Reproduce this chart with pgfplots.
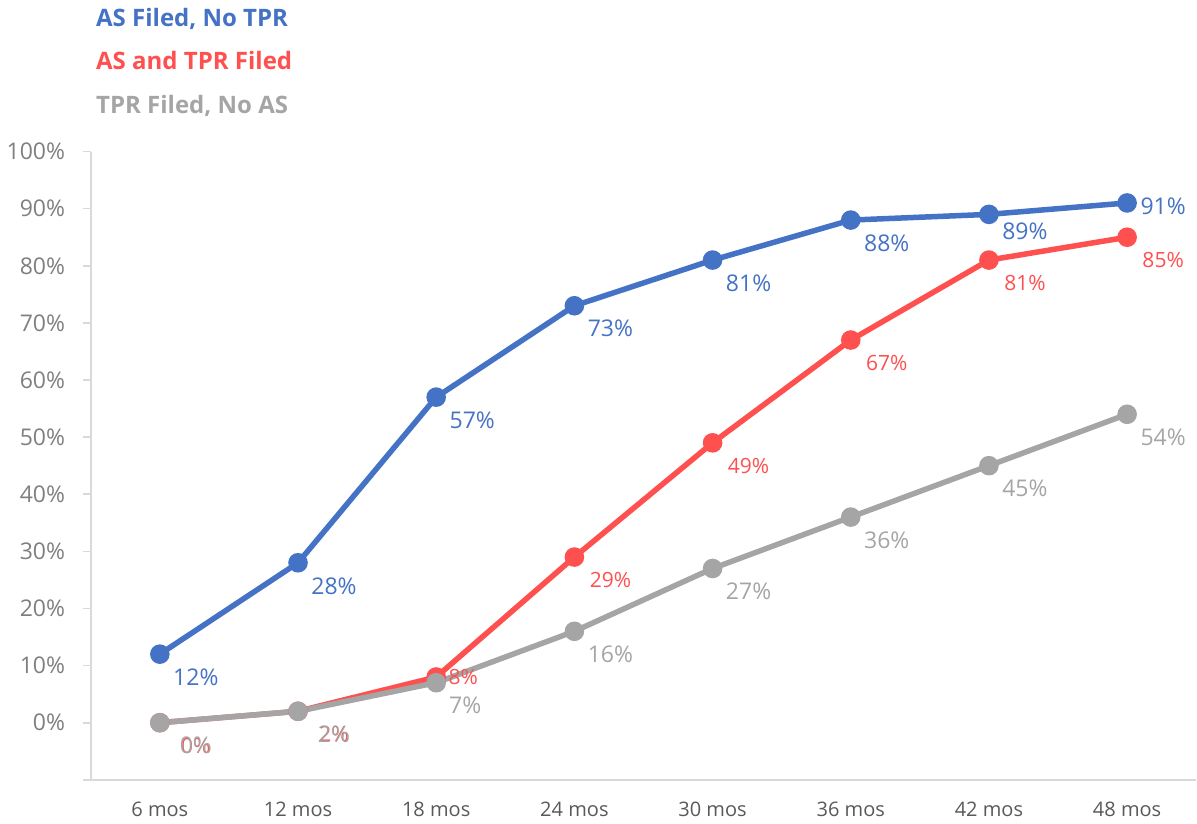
\documentclass[border=0pt]{standalone}
\usepackage{pgfplots}
\pgfplotsset{compat=1.18}
\usepackage{fontspec}
\setmainfont{Open Sans}
\definecolor{asblue}{HTML}{4472C4}
\definecolor{bothred}{HTML}{FF5050}
\definecolor{tprgray}{HTML}{A5A5A5}
\definecolor{axisgray}{HTML}{D9D9D9}
\definecolor{ylabgray}{HTML}{7F7F7F}
\definecolor{xlabgray}{HTML}{595959}

\begin{document}
\begin{tikzpicture}
\begin{axis}[
  scale only axis,
  width=552.5pt, height=314pt,
  xmin=-0.5, xmax=7.5,
  ymin=-10, ymax=100,
  axis lines*=left,
  axis line style={axisgray, line width=0.8pt},
  xtick={0,...,7},
  xticklabels={6 mos,12 mos,18 mos,24 mos,30 mos,36 mos,42 mos,48 mos},
  x tick label style={font=\fontsize{10}{12}\selectfont, text=xlabgray, yshift=-3.6pt},
  major x tick style={draw=none},
  ytick={-10,0,10,20,30,40,50,60,70,80,90,100},
  yticklabels={,0\%,10\%,20\%,30\%,40\%,50\%,60\%,70\%,80\%,90\%,100\%},
  y tick label style={font=\fontsize{11.5}{13}\selectfont, text=ylabgray, xshift=-5.3pt},
  /pgf/number format/assume math mode=true,
  tick align=outside,
  major tick length=4pt,
  major y tick style={axisgray, line width=0.8pt},
  every axis plot/.append style={line width=2.75pt, mark=*, mark size=3.5pt},
  point meta=y,
  nodes near coords={\pgfmathprintnumber{\pgfplotspointmeta}\%},
  every node near coord/.append style={anchor=center, xshift=18pt, yshift=-11.5pt,
    font=\fontsize{11.5}{13}\selectfont},
  legend cell align=left,
  legend image code/.code={},
  legend style={draw=none, fill=none, at={(0,1.042)}, anchor=south west, xshift=-2.5pt,
    font=\bfseries\fontsize{12}{14}\selectfont, row sep=7.25pt},
]
\addplot[asblue, mark options={fill=asblue},
  nodes near coords style={text=asblue},
  coordinate style/.condition={x>6.5}{yshift=10pt},
  coordinate style/.condition={abs(x-6)<0.5}{yshift=3pt}]
  coordinates {(0,12) (1,28) (2,57) (3,73) (4,81) (5,88) (6,89) (7,91)};
\addlegendentry{\textcolor{asblue}{AS Filed, No TPR}}
\addplot[bothred, mark options={fill=bothred},
  nodes near coords style={text=bothred, font=\fontsize{10.5}{12}\selectfont},
  coordinate style/.condition={abs(x-2)<0.5}{xshift=-4.5pt, yshift=11.5pt}]
  coordinates {(0,0) (1,2) (2,8) (3,29) (4,49) (5,67) (6,81) (7,85)};
\addlegendentry{\textcolor{bothred}{AS and TPR Filed}}
\addplot[tprgray, mark options={fill=tprgray},
  nodes near coords style={text=tprgray},
  coordinate style/.condition={abs(x-2)<0.5}{xshift=-3.5pt}]
  coordinates {(0,0) (1,2) (2,7) (3,16) (4,27) (5,36) (6,45) (7,54)};
\addlegendentry{\textcolor{tprgray}{TPR Filed, No AS}}
\end{axis}
\end{tikzpicture}
\end{document}
